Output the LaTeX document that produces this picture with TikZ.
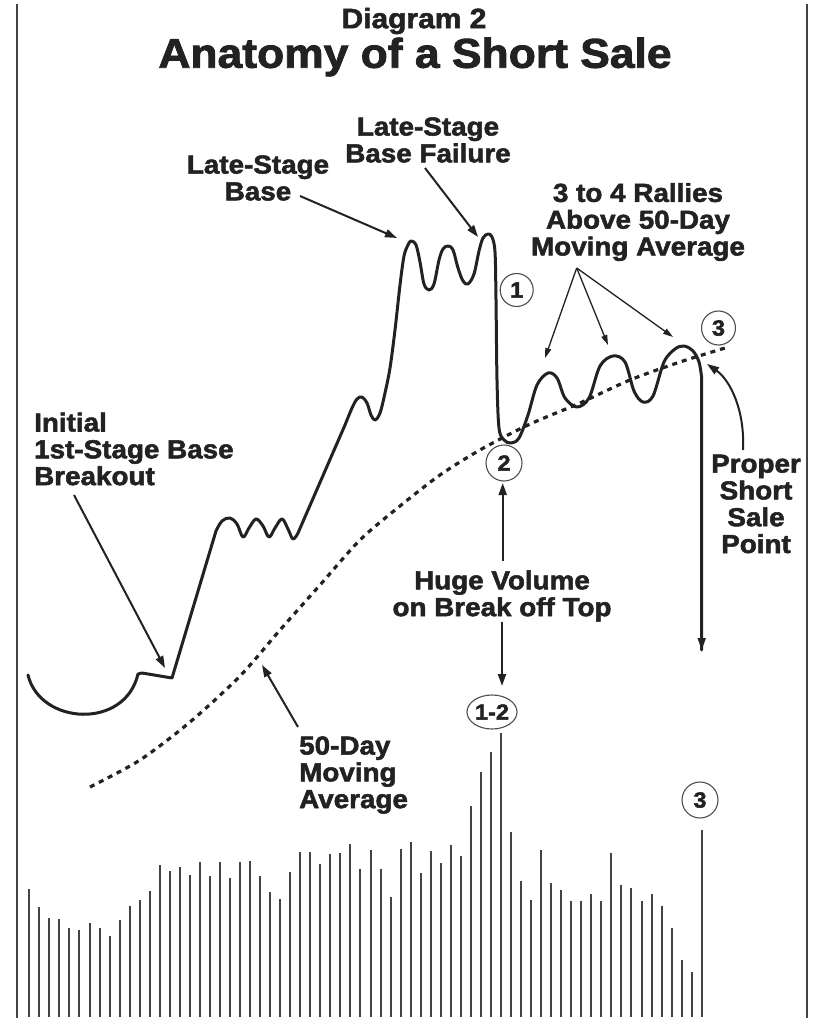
\documentclass[tikz,border=0pt]{standalone}
\usepackage{fontspec}
\setmainfont{Liberation Sans}[BoldFeatures={FakeBold=2,FakeStretch=1.07}]
\usetikzlibrary{arrows.meta,shapes.geometric}
\definecolor{ink}{HTML}{222222}
\tikzset{
  price/.style={line width=3pt,color=ink,line join=round,line cap=round},
  mavg/.style={line width=3.2pt,color=ink,dash pattern=on 5pt off 5pt},
  arr/.style={line width=2pt,color=ink,-{Triangle[length=12pt,width=8pt]}},
  thinarr/.style={line width=1.3pt,color=ink,-{Triangle[length=10pt,width=6pt]}},
  lbl/.style={font=\fontsize{26}{26.8}\selectfont\bfseries,text=ink,inner sep=0pt,align=center},
  circ/.style={draw=ink!80,line width=1.1pt,circle,inner sep=0pt,font=\fontsize{22}{22}\selectfont\bfseries,text=ink},
  vbar/.style={line width=2pt,color=ink!85},
  frame/.style={line width=2pt,color=ink!85}
}
\begin{document}
\begin{tikzpicture}[x=1pt,y=-1pt]
\useasboundingbox (0,0) rectangle (829,1024);
\fill[white] (0,0) rectangle (829,1024);
% frame lines
\draw[frame] (16.5,4) -- (16.5,1018);
\draw[frame] (807,4) -- (807,1018);
% titles
\node[lbl,font=\fontsize{28}{29}\selectfont\bfseries] (t1) at (414,21) {Diagram 2};
\node[lbl,font=\fontsize{41.5}{43}\selectfont\bfseries] (t2) at (415,57) {Anatomy of a Short Sale};
% labels
\node[lbl] (lsbf) at (428,140) {Late-Stage\\Base Failure};
\node[lbl] (lsb) at (258,178) {Late-Stage\\Base};
\node[lbl] (rally) at (638,222) {3 to 4 Rallies\\Above 50-Day\\Moving Average};
\node[lbl,anchor=west,align=left] (init) at (34,449) {Initial\\1st-Stage Base\\Breakout};
\node[lbl] (pssp) at (756,504) {Proper\\Short\\Sale\\Point};
\node[lbl] (huge) at (502,596) {Huge Volume\\on Break off Top};
\node[lbl,anchor=west,align=left] (ma) at (299,775) {50-Day\\Moving\\Average};
% circled numbers
\node[circ,minimum size=33pt] (c1) at (516.7,290) {1};
\node[circ,minimum size=36pt] (c2) at (504,463) {2};
\node[circ,minimum size=34pt] (c3) at (718.5,328) {3};
\node[circ,minimum size=36pt] (c3b) at (700,800) {3};
\node[draw=ink!80,line width=1.1pt,ellipse,minimum width=50pt,minimum height=34pt,inner sep=0pt,font=\fontsize{22}{22}\selectfont\bfseries,text=ink] (c12) at (492,712) {1-2};
% moving average
\draw[mavg] plot[smooth] coordinates {(90,787) (140,760) (190,722) (240,676) (280,630) (320,585) (360,540) (400,506) (440,475) (480,450) (528,425) (580,403) (630,380) (680,362) (725,348)};
% price curve
\coordinate (brk) at (172,678);
\coordinate (fall) at (701.7,650);
\draw[price] (28,675) .. controls (40,725) and (125,730) .. (138,674) -- (142,673) -- (brk) -- (216,531)
  -- plot[smooth,tension=0.6] coordinates {(216,531) (222,521) (230,518) (237,524) (243,537) (249,528) (256,519) (263,526) (269,537) (275,528) (282,519) (288,529) (293,539) (298,533)}
  -- (345,425)
  -- plot[smooth,tension=0.55] coordinates {(345,425) (352,408) (357,399) (362,397) (367,403) (371,415) (375,420) (380,413) (385,393) (390,368) (395,330) (400,285) (404,256) (408,245) (411,241) (416,245) (420,262) (424,284) (429,290) (434,284) (439,260) (443,249) (448,246) (453,250) (458,268) (463,281) (468,284) (474,274) (479,251) (483,238) (488,234) (492,237) (495,252) (496,300) (497,380) (499,428) (504,440) (511,443) (519,438) (528,415) (537,385) (548,373) (557,378) (565,398) (577,407) (589,398) (600,366) (613,356) (625,362) (634,391) (643,402) (653,396) (664,362) (675,349) (684,346) (693,351) (699,362) (701.7,378)}
  -- (fall);
\draw[arr] (701.7,640) -- (fall);
% arrows
\coordinate (initA) at (74,495);
\coordinate (initB) at (165,668);
\draw[arr] (initA) -- (initB);
\coordinate (lsbA) at (300,196);
\coordinate (lsbB) at (397,238);
\draw[arr] (lsbA) -- (lsbB);
\coordinate (lsbfA) at (425,168);
\coordinate (lsbfB) at (478,237);
\draw[arr] (lsbfA) -- (lsbfB);
\coordinate (rO) at (576.7,268);
\coordinate (r1) at (545,358);
\coordinate (r2) at (608,345);
\coordinate (r3) at (673,337);
\draw[thinarr] (rO) -- (r1);
\draw[thinarr] (rO) -- (r2);
\draw[thinarr] (rO) -- (r3);
\coordinate (maA) at (298,727);
\coordinate (maB) at (262,665);
\draw[arr] (maA) -- (maB);
\coordinate (psA) at (743,450);
\coordinate (psB) at (707,364);
\draw[arr] (psA) .. controls (745,410) and (730,380) .. (psB);
\coordinate (hu) at (502.7,561);
\coordinate (hut) at (502.7,483);
\draw[arr] (hu) -- (hut);
\coordinate (hd) at (502,622);
\coordinate (hdt) at (502,686);
\draw[arr] (hd) -- (hdt);
% volume bars
\foreach \t [count=\k from 0] in {889,906.7,917.7,919,928.3,930,923.3,928.3,935.7,920,905.7,899.7,891.3,864.7,870.7,866.7,875.3,862.3,875.7,862.3,878.3,862.3,861,875.7,891.7,899,871.7,852.3,852.3,864,854.3,853,844,869,850.3,869,896.7,849,842.3,873.3,850.7,862.7,844.7,855.7,805.7,772.3,751.7,733,832.3,880.7,900,850,882.7,890,900.7,900.7,894,900.7,853.3,885,888.3,901,894.3,905.7,927.7,960,972.3,830}
  \draw[vbar] ({29.3+10.036*\k},1017) -- ({29.3+10.036*\k},\t);
\end{tikzpicture}
\end{document}
